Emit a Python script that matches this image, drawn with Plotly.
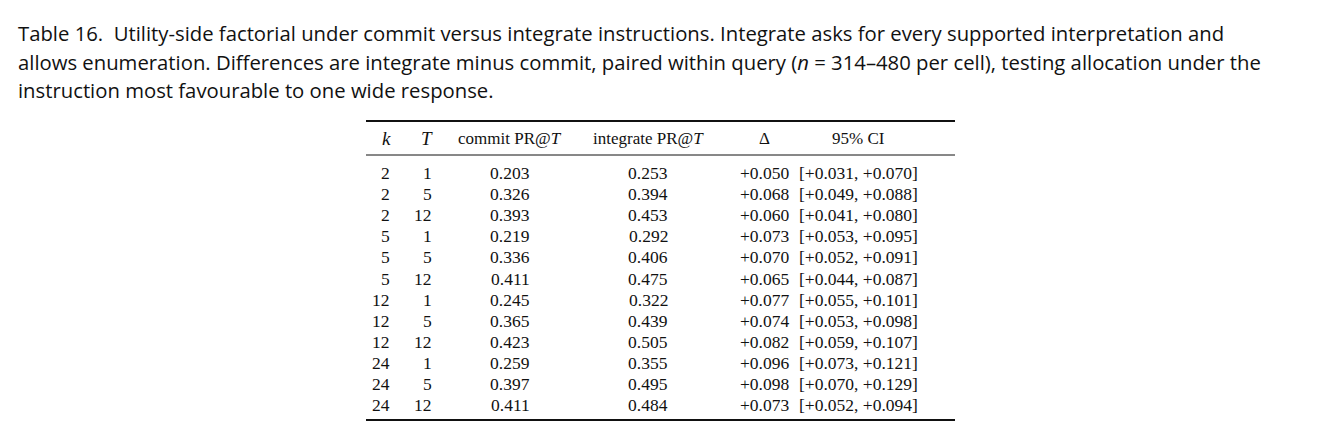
import plotly.graph_objects as go

caption = [
    "Table 16.  Utility-side factorial under commit versus integrate instructions. Integrate asks for every supported interpretation and",
    "allows enumeration. Differences are integrate minus commit, paired within query (<i>n</i> = 314–480 per cell), testing allocation under the",
    "instruction most favourable to one wide response.",
]
headers = ["<i>k</i>", "<i>T</i>", "commit PR@<i>T</i>", "integrate PR@<i>T</i>", "Δ", "95% CI"]
k_vals = [2, 2, 2, 5, 5, 5, 12, 12, 12, 24, 24, 24]
t_vals = [1, 5, 12, 1, 5, 12, 1, 5, 12, 1, 5, 12]
commit = ["0.203", "0.326", "0.393", "0.219", "0.336", "0.411", "0.245", "0.365", "0.423", "0.259", "0.397", "0.411"]
integrate = ["0.253", "0.394", "0.453", "0.292", "0.406", "0.475", "0.322", "0.439", "0.505", "0.355", "0.495", "0.484"]
delta = ["+0.050", "+0.068", "+0.060", "+0.073", "+0.070", "+0.065", "+0.077", "+0.074", "+0.082", "+0.096", "+0.098", "+0.073"]
ci = ["[+0.031, +0.070]", "[+0.049, +0.088]", "[+0.041, +0.080]", "[+0.053, +0.095]", "[+0.052, +0.091]",
      "[+0.044, +0.087]", "[+0.055, +0.101]", "[+0.053, +0.098]", "[+0.059, +0.107]", "[+0.073, +0.121]",
      "[+0.070, +0.129]", "[+0.052, +0.094]"]

W, H = 1317, 439
OFF = 8  # page body margin
fig = go.Figure()
fig.update_layout(width=W, height=H, margin=dict(l=0, r=0, t=0, b=0),
                  paper_bgcolor="white", plot_bgcolor="white", showlegend=False)
fig.update_xaxes(range=[OFF, W + OFF], visible=False, fixedrange=True)
fig.update_yaxes(range=[H + OFF, OFF], visible=False, fixedrange=True)

cap_font = dict(family="Open Sans", size=20.3, color="#111")
for i, line in enumerate(caption):
    fig.add_annotation(x=16, y=33 + i * 28.5, text=line, showarrow=False,
                       xanchor="left", yanchor="middle", font=cap_font)

tf = dict(family="Liberation Serif", size=17.5, color="#111")
cols = [(392, "right"), (434, "right"), (510, "center"), (648, "center"), (764, "center"), (858, "center")]
head_x = [386, 427, 510, 648, 764, 858]
for hx, h in zip(head_x, headers):
    fig.add_annotation(x=hx, y=138, text=h, showarrow=False, xanchor="center",
                       yanchor="middle", font=dict(tf, size=19 if h in ("<i>k</i>", "<i>T</i>") else 17))

for r in range(len(k_vals)):
    y = 173 + r * 21.1
    vals = [str(k_vals[r]), str(t_vals[r]), commit[r], integrate[r], delta[r], ci[r]]
    for (cx, anc), v in zip(cols, vals):
        fig.add_annotation(x=cx, y=y, text=v, showarrow=False, xanchor=anc,
                           yanchor="middle", font=tf)

for y0, w in [(121, 2), (155, 1), (420, 2)]:
    fig.add_shape(type="line", x0=366, x1=955, y0=y0, y1=y0, line=dict(color="#111", width=w))

fig.write_html("out.html")
